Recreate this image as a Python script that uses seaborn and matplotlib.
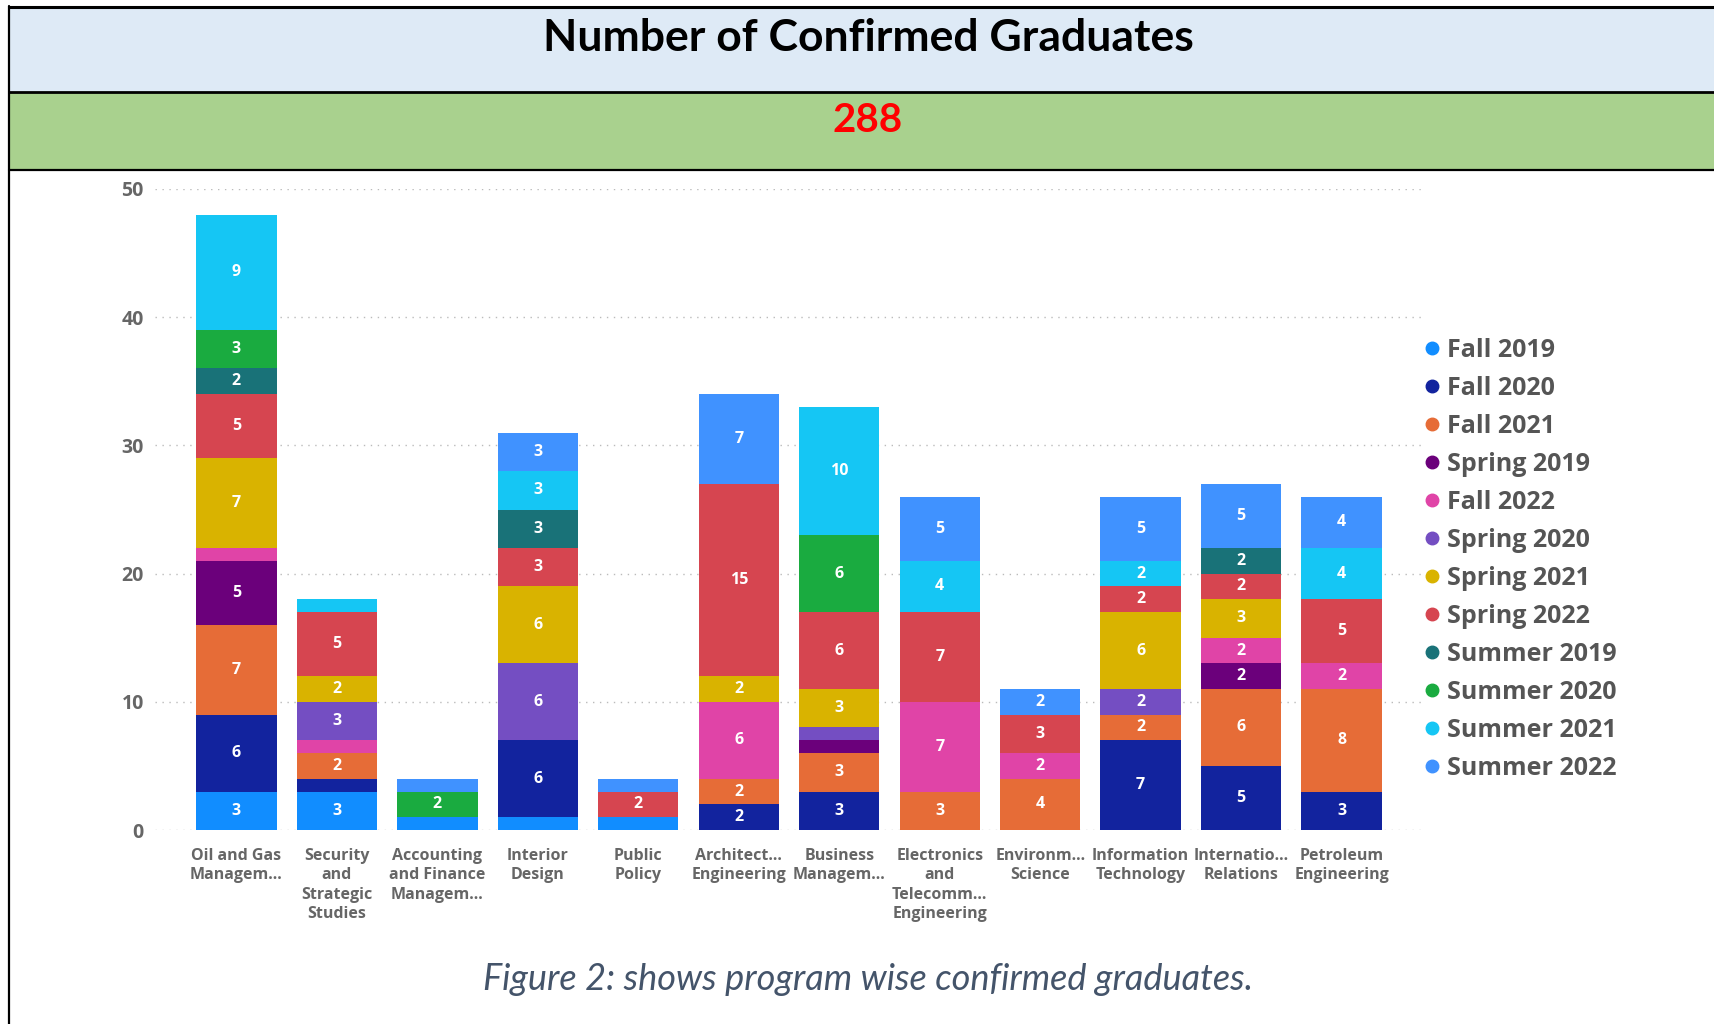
import numpy as np
import pandas as pd
import matplotlib
matplotlib.use('Agg')
import matplotlib.pyplot as plt
from matplotlib.patches import Rectangle
from matplotlib.lines import Line2D
import seaborn as sns

programs = ['Oil and Gas\nManagem…', 'Security\nand\nStrategic\nStudies',
            'Accounting\nand Finance\nManagem…', 'Interior\nDesign', 'Public\nPolicy',
            'Architect…\nEngineering', 'Business\nManagem…',
            'Electronics\nand\nTelecomm…\nEngineering', 'Environm…\nScience',
            'Information\nTechnology', 'Internatio…\nRelations', 'Petroleum\nEngineering']

terms = ['Fall 2019', 'Fall 2020', 'Fall 2021', 'Spring 2019', 'Fall 2022', 'Spring 2020',
         'Spring 2021', 'Spring 2022', 'Summer 2019', 'Summer 2020', 'Summer 2021', 'Summer 2022']
colors = ['#118DFF', '#12239E', '#E66C37', '#6B007B', '#E044A7', '#744EC2',
          '#D9B300', '#D64550', '#197278', '#1AAB40', '#15C6F4', '#4092FF']

# graduates per term, in program order
fall_2019 = [3, 3, 1, 1, 1, 0, 0, 0, 0, 0, 0, 0]
fall_2020 = [6, 1, 0, 6, 0, 2, 3, 0, 0, 7, 5, 3]
fall_2021 = [7, 2, 0, 0, 0, 2, 3, 3, 4, 2, 6, 8]
spring_2019 = [5, 0, 0, 0, 0, 0, 1, 0, 0, 0, 2, 0]
fall_2022 = [1, 1, 0, 0, 0, 6, 0, 7, 2, 0, 2, 2]
spring_2020 = [0, 3, 0, 6, 0, 0, 1, 0, 0, 2, 0, 0]
spring_2021 = [7, 2, 0, 6, 0, 2, 3, 0, 0, 6, 3, 0]
spring_2022 = [5, 5, 0, 3, 2, 15, 6, 7, 3, 2, 2, 5]
summer_2019 = [2, 0, 0, 3, 0, 0, 0, 0, 0, 0, 2, 0]
summer_2020 = [3, 0, 2, 0, 0, 0, 6, 0, 0, 0, 0, 0]
summer_2021 = [9, 1, 0, 3, 0, 0, 10, 4, 0, 2, 0, 4]
summer_2022 = [0, 0, 1, 3, 1, 7, 0, 5, 2, 5, 5, 4]

series = [fall_2019, fall_2020, fall_2021, spring_2019, fall_2022, spring_2020,
          spring_2021, spring_2022, summer_2019, summer_2020, summer_2021, summer_2022]

rows = []
for term, vals in zip(terms, series):
    for prog, v in zip(programs, vals):
        rows.append({'program': prog, 'term': term, 'count': v})
df = pd.DataFrame(rows)
total = int(df['count'].sum())

W, H = 1715, 1024
sns.set_style('white')
plt.rcParams['font.family'] = ['Open Sans', 'DejaVu Sans']

fig = plt.figure(figsize=(W / 100, H / 100), dpi=100)


def fy(px):
    return 1 - px / H


# header banners
fig.patches.append(Rectangle((10 / W, fy(91)), 1, (91 - 7) / H, transform=fig.transFigure,
                             facecolor='#DEEAF6', edgecolor='none', zorder=0))
fig.patches.append(Rectangle((10 / W, fy(169)), 1, (169 - 92) / H, transform=fig.transFigure,
                             facecolor='#A9D18E', edgecolor='none', zorder=0))
for y, lw in [(6.5, 2.2), (91.5, 2.0), (169.5, 1.6)]:
    fig.add_artist(Line2D([9 / W, 1], [fy(y), fy(y)], color='black', lw=lw))
fig.add_artist(Line2D([9 / W, 9 / W], [fy(6), 0], color='black', lw=1.6))

fig.text(868 / W, fy(38), 'Number of Confirmed Graduates', ha='center', va='center',
         fontsize=32, fontweight='bold', family=['Lato', 'DejaVu Sans'], color='black')
fig.text(868 / W, fy(120), str(total), ha='center', va='center',
         fontsize=29, fontweight='bold', family=['Lato', 'DejaVu Sans'], color='#FF0000')
fig.text(868 / W, fy(979), 'Figure 2: shows program wise confirmed graduates.', ha='center',
         va='center', fontsize=26, style='italic', family=['Lato', 'DejaVu Sans'], color='#44546A')

ax = fig.add_axes([155 / W, 1 - 830 / H, (1422 - 155) / W, (830 - 189) / H])
sns.histplot(data=df, x='program', weights='count', hue='term', hue_order=terms[::-1],
             palette=dict(zip(terms, colors)), multiple='stack', discrete=True, shrink=0.8,
             alpha=1, linewidth=0, legend=False, ax=ax)

for cont in ax.containers:
    labels = [str(int(round(b.get_height()))) if b.get_height() >= 2 else '' for b in cont]
    ax.bar_label(cont, labels=labels, label_type='center', color='white',
                 fontsize=11.5, fontweight='bold')

ax.set_xlim(-0.81, 11.8)
ax.set_ylim(0, 50)
ax.set_yticks([0, 10, 20, 30, 40, 50])
ax.set_xticks(range(len(programs)))
ax.set_xticklabels(programs, fontsize=11.5, fontweight='bold', color='#666666', linespacing=1.28)
ax.tick_params(axis='y', labelsize=14, labelcolor='#666666', length=0, pad=8)
ax.tick_params(axis='x', length=0, pad=13)
for lab in ax.get_yticklabels():
    lab.set_fontweight('bold')
ax.set_xlabel('')
ax.set_ylabel('')
ax.set_axisbelow(True)
ax.yaxis.grid(True, linestyle=(0, (1, 4)), color='#BBBBBB', lw=1)
sns.despine(ax=ax, left=True, bottom=True)

handles = [Line2D([], [], marker='o', linestyle='none', markersize=9, color=c) for c in colors]
fig.legend(handles, terms, loc='upper left', bbox_to_anchor=(1425 / W, fy(338)),
           frameon=False, handlelength=0.6, handletextpad=0.3,
           labelspacing=0.52, borderpad=0, borderaxespad=0,
           prop={'weight': 'bold', 'size': 18})
for t in fig.legends[0].get_texts():
    t.set_color('#555555')

fig.savefig('out.png', dpi=100, facecolor='white')
